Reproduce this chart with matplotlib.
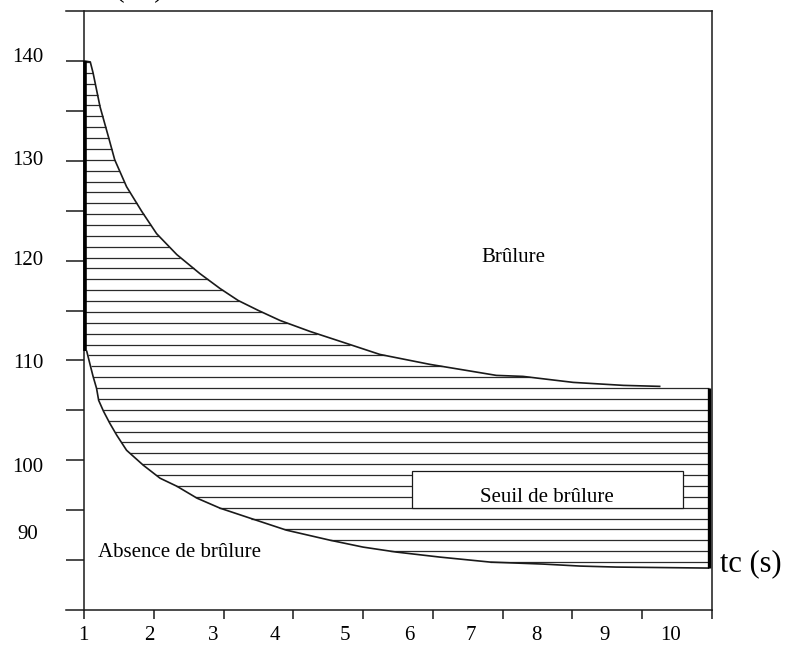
import numpy as np
import matplotlib
matplotlib.use("Agg")
import matplotlib.pyplot as plt
from matplotlib.patches import Rectangle

plt.rcParams['font.family'] = ['Liberation Serif', 'DejaVu Serif']

# ---- data ----
x_upper = [1.0, 1.09, 1.13, 1.23, 1.35, 1.44, 1.61, 1.83, 2.04, 2.33, 2.66, 2.95,
           3.21, 3.50, 3.81, 4.24, 4.72, 5.24, 5.96, 6.48, 6.91, 7.29, 8.01, 8.73, 9.25]
t_upper = [140.0, 139.9, 138.8, 135.4, 132.4, 130.1, 127.4, 124.9, 122.7, 120.6, 118.7, 117.2,
           116.0, 115.0, 114.0, 112.9, 111.8, 110.6, 109.6, 109.0, 108.5, 108.4, 107.8, 107.5, 107.4]

x_lower = [1.04, 1.09, 1.13, 1.18, 1.21, 1.28, 1.37, 1.47, 1.61, 1.85, 2.09, 2.33, 2.62,
           2.95, 3.38, 3.90, 4.52, 5.00, 5.48, 6.10, 6.82, 7.58, 8.11, 8.63, 9.95]
t_lower = [110.9, 109.5, 108.4, 107.2, 106.0, 104.9, 103.7, 102.5, 101.0, 99.5, 98.2, 97.4, 96.2,
           95.2, 94.2, 93.0, 92.0, 91.3, 90.8, 90.3, 89.8, 89.6, 89.4, 89.3, 89.2]

x_ticks = [1, 2, 3, 4, 5, 6, 7, 8, 9, 10]
x_tick_labels = ['1', '2', '3', '4', '5', '6', '7', '8', '9', '10']
x_label_pos = [0.986, 1.931, 2.848, 3.736, 4.739, 5.656, 6.544, 7.490, 8.464, 9.410]

y_ticks = [90, 95, 100, 105, 110, 115, 120, 125, 130, 135, 140]
y_tick_labels = ['140', '130', '120', '110', '100', '90']
y_label_pos = [139.9, 129.6, 119.6, 109.2, 98.85, 92.07]

# hatch pattern (horizontal lines) of the burn-threshold band
hatch_top = 139.9
hatch_step = 1.089
hatch_count = 47

# ---- figure ----
W, H = 788, 650
fig = plt.figure(figsize=(W / 100, H / 100), dpi=100)
ax = fig.add_axes([66 / W, 1 - 610 / H, (712 - 66) / W, (610 - 11) / H])
ax.set_xlim(0.742, 10)
ax.set_ylim(85, 145)

ink = '#1a1a1a'
for s in ['top', 'bottom', 'right', 'left']:
    ax.spines[s].set_linewidth(1.1)
    ax.spines[s].set_color(ink)
ax.spines['left'].set_position(('data', 1))

ax.set_xticks(x_ticks)
ax.set_xticklabels([])
ax.set_yticks(y_ticks)
ax.set_yticklabels([])
ax.tick_params(axis='x', direction='out', length=6.5, width=1.1, color=ink)
ax.tick_params(axis='y', direction='out', length=13, width=1.1, color=ink)

# hatch lines between the two curves
xu = np.array(x_upper); tu = np.array(t_upper)
xl = np.array(x_lower); tl = np.array(t_lower)
levels = hatch_top - hatch_step * np.arange(hatch_count)
for T in levels:
    if T >= tl[0]:
        x0 = 1.02
    else:
        x0 = np.interp(T, tl[::-1], xl[::-1])
    if T > tu.min():
        x1 = np.interp(T, tu[::-1], xu[::-1])
    else:
        x1 = 9.95
    ax.plot([x0, x1], [T, T], color='#2a2a2a', lw=0.9, solid_capstyle='butt', zorder=2)

# curves
ax.plot(xu, tu, color=ink, lw=1.2, zorder=3)
ax.plot(xl, tl, color=ink, lw=1.2, zorder=3)
# thick edges
ax.plot([1.02, 1.02], [t_upper[0], t_lower[0]], color='black', lw=2.6, solid_capstyle='butt', zorder=3)
ax.plot([9.95, 9.95], [levels[levels < tu.min()][0], t_lower[-1]], color='black', lw=2.4,
        solid_capstyle='butt', zorder=3)

# label box
box = Rectangle((5.699, 95.21), 9.582 - 5.699, 98.92 - 95.21, facecolor='white',
                edgecolor=ink, lw=0.9, zorder=4)
ax.add_patch(box)
txt = ax.text(7.633, 95.81, 'Seuil de brûlure', ha='center', va='baseline', fontsize=15,
              zorder=5)
clip = Rectangle((5.699, 96.01), 9.582 - 5.699, 98.92 - 96.01, transform=ax.transData)
txt.set_clip_path(clip)

ax.text(6.697, 119.9, 'Brûlure', ha='left', va='baseline', fontsize=15, zorder=5)
ax.text(1.205, 90.33, 'Absence de brûlure', ha='left', va='baseline', fontsize=15, zorder=5)

# tick labels
for lab, yp in zip(y_tick_labels, y_label_pos):
    ax.text(0.198, yp, lab, ha='center', va='baseline', fontsize=15, clip_on=False)
for lab, xp in zip(x_tick_labels, x_label_pos):
    ax.text(xp, 82.0, lab, ha='center', va='baseline', fontsize=15, clip_on=False)

# axis titles
ax.text(10.12, 88.93, 'tc (s)', ha='left', va='baseline', fontsize=22, clip_on=False)
fig.text(163 / W, 1.0 + 3 / H, 'T (°C)', ha='right', va='baseline', fontsize=20)

fig.savefig('out.png', dpi=100)
